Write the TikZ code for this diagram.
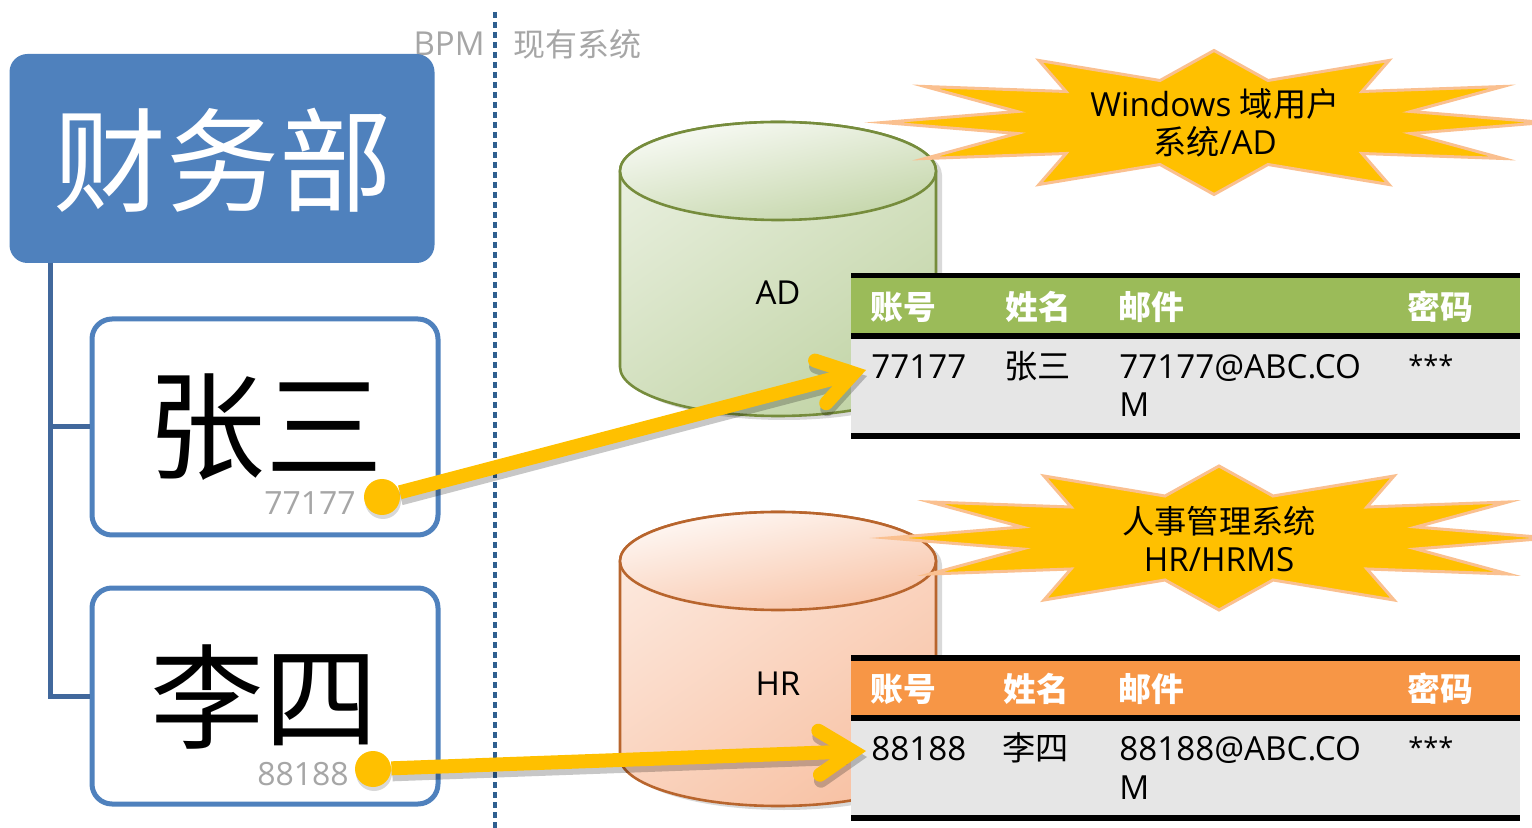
\documentclass[tikz,border=0pt]{standalone}
\usepackage{fontspec}
\setmainfont{Open Sans}
\newfontfamily\cjk{Noto Sans CJK SC}
\usepackage{tikz}
\usetikzlibrary{shadows}
\usetikzlibrary{positioning}
\usetikzlibrary{arrows.meta}
\definecolor{deptblue}{HTML}{4F81BD}
\definecolor{trunkblue}{HTML}{41689C}
\definecolor{dashblue}{HTML}{2F5F8F}
\definecolor{gold}{HTML}{FFC000}
\definecolor{burstedge}{HTML}{FAC090}
\definecolor{headgreen}{HTML}{9BBB59}
\definecolor{headorange}{HTML}{F79646}
\definecolor{rowgrey}{HTML}{E6E6E6}
\definecolor{labelgrey}{HTML}{A6A6A6}
\tikzstyle{person}=[draw=deptblue,line width=2.5pt,fill=white,rounded corners=10pt,minimum width=173pt,minimum height=108pt,inner sep=0pt]
\tikzstyle{trunk} = [draw=trunkblue,line width=2.5pt]
\tikzstyle{burst} = [draw=burstedge,fill=gold,line width=1.5pt,miter limit=20]
\tikzstyle{bursttext} = [align=center,font=\fontsize{16.6}{19}\selectfont,inner sep=0pt]
\tikzstyle{dot}=[circle,fill=gold,minimum size=18pt,inner sep=0pt,drop shadow={shadow xshift=0.5pt,shadow yshift=-2pt,opacity=.3}]
\tikzstyle{linkshade} = [draw=black,opacity=.22,line width=7pt,-{Straight Barb[length=17pt,width=22pt,line cap=round,line join=miter]},transform canvas={xshift=0.5pt,yshift=-3pt}]
\tikzstyle{link} = [draw=gold,line width=7pt,-{Straight Barb[length=17pt,width=22pt,line cap=round,line join=miter]}]
\tikzstyle{head} = [anchor=west,text=white,font=\cjk\bfseries\fontsize{16.4}{19}\selectfont,inner sep=0pt]
\tikzstyle{cell} = [anchor=west,font=\fontsize{16.6}{19.5}\selectfont,inner xsep=2.5pt,inner ysep=0pt,text height=12pt,text depth=3pt]
\tikzstyle{stars} = [anchor=west,font=\fontsize{13.6}{19.5}\selectfont,inner xsep=0pt,inner ysep=0pt,text height=12pt,text depth=3pt]
\tikzstyle{idlabel} = [text=labelgrey,font=\fontsize{16}{19}\selectfont,inner sep=0pt]
\tikzstyle{cut} = [draw=black,line width=2.8pt]
\tikzstyle{small} = [font=\fontsize{16.5}{19}\selectfont,inner sep=0pt]

\begin{document}
\begin{tikzpicture}[x=0.5pt,y=-0.5pt]
    \clip (0,0) rectangle (1532,828);
    % The divider and its two captions
    \coordinate (divtop) at (495,12);
    \coordinate (divend) at (495,828);
    \draw[dashblue,line width=1.6pt,dash pattern=on 3pt off 2pt] (divtop) -- (divend);
    \node[small,text=labelgrey,anchor=east] (bpm) at (485,44) {BPM};
    \node[small,text=labelgrey,anchor=west] (cur) at (513,44) {\cjk\fontsize{16}{19}\selectfont 现有系统};

    % First we draw the department and the people
    \node[fill=deptblue,rounded corners=9pt,minimum width=212.5pt,minimum height=104.5pt,inner sep=0pt] (dept) at (222,158.5) {};
    \node[text=white,font=\cjk\fontsize{56.5}{60}\selectfont,inner sep=0pt] (deptname) at (223,160) {财务部};
    \coordinate (root) at (50,263);
    \foreach \pos/\name in {{(265,427)/zhang}, {(265,696)/li}}
        \node[person] (\name) at \pos {};
    \node[font=\cjk\fontsize{59}{60}\selectfont,inner sep=0pt] (zhangname) at (265,427) {张三};
    \node[font=\cjk\fontsize{57}{60}\selectfont,inner sep=0pt] (liname) at (264,697) {李四};
    \path[trunk] (root) |- (zhang.west);
    \path[trunk] (root) |- (li.west);
    \node[idlabel] (zhangid) at (310,503) {77177};
    \node[idlabel] (liid) at (303,774) {88188};

    % Two databases, then the bursts over them
    \foreach \cy/\edge/\pale in {171/768C3C/{C3D5A8}, 561/B8652D/{F8C3A6}}{
        \definecolor{cyledge}{HTML}{\edge}
        \definecolor{cylfill}{HTML}{\pale}
        \begin{scope}[shift={(0,\cy)}]
            \path[left color=cylfill!40,right color=cylfill,shading angle=35,draw=cyledge,line width=1.3pt,drop shadow={shadow xshift=3pt,shadow yshift=-2pt,opacity=.3}]
                (620,0) -- (620,196) arc[start angle=180,end angle=360,x radius=79pt,y radius=24.5pt] -- (936,0) arc[start angle=0,end angle=180,x radius=79pt,y radius=24.5pt] -- cycle;
            \path[left color=cylfill!10,right color=cylfill,shading angle=12,draw=cyledge,line width=1.3pt] (778,0) ellipse [x radius=79pt,y radius=24.5pt];
        \end{scope}
    }
    \node[small] (ad) at (778,293) {AD};
    \node[small] (hr) at (778,684) {HR};

    \foreach \cx/\cy in {1214/122.5, 1219/538}{
        \begin{scope}[shift={(\cx,\cy)}]
            \path[burst] (0,-72) -- (54,-42) -- (175,-62) -- (148,-31) -- (289,-36) -- (197,-11) -- (331,0) -- (197,11) -- (289,36) -- (148,31) -- (175,62) -- (54,42) -- (0,72) -- (-54,42) -- (-175,62) -- (-148,31) -- (-289,36) -- (-197,11) -- (-331,0) -- (-197,-11) -- (-289,-36) -- (-148,-31) -- (-175,-62) -- (-54,-42) -- cycle;
        \end{scope}
    }
    \node[bursttext] (adtext) at (1215,123) {Windows {\cjk 域用户}\\{\cjk 系统}/AD};
    \node[bursttext] (hrtext) at (1219,539) {{\cjk\fontsize{16.1}{19}\selectfont 人事管理系统}\\HR/HRMS};

    % The tables
    \fill[rowgrey] (851,338) rectangle (1520,435);
    \fill[headgreen] (851,276) rectangle (1520,336);
    \fill[rowgrey] (851,718) rectangle (1520,818);
    \fill[headorange] (851,658) rectangle (1520,718);
    \foreach \y in {275.5,336,436,658,718,818}
        \draw[cut] (851,\y) -- (1520,\y);

    \foreach \pos/\name/\txt in {{(870,307)/hacc/账号}, {(1005,307)/hname/姓名}, {(1118,307)/hmail/邮件}, {(1407,307)/hpass/密码},
    {(870,689)/iacc/账号}, {(1003,689)/iname/姓名}, {(1118,689)/imail/邮件}, {(1407,689)/ipass/密码}}
        \node[head] (\name) at \pos {\txt};

    \node[cell] (acca) at (866,370) {77177};
    \node[cell] (namea) at (999,370) {\cjk 张三};
    \node[cell] (maila) at (1114,370) {77177@ABC.CO};
    \node[cell] (wrapa) at (1114,408) {M};
    \node[stars] (passa) at (1408,367) {***};

    \node[cell] (accb) at (866,751) {88188};
    \node[cell] (nameb) at (997,751) {\cjk 李四};
    \node[cell] (mailb) at (1114,751) {88188@ABC.CO};
    \node[cell] (wrapb) at (1114,790) {M};
    \node[stars] (passb) at (1408,748) {***};

    % Connect people with their accounts
    \node[dot] (dota) at (382,497) {};
    \node[dot] (dotb) at (373,769) {};
    \path[linkshade] (dota) -- (acca.west);
    \path[linkshade] (dotb) -- (accb.west);
    \path[link] (dota) -- (acca.west);
    \path[link] (dotb) -- (accb.west);
\end{tikzpicture}
\end{document}
